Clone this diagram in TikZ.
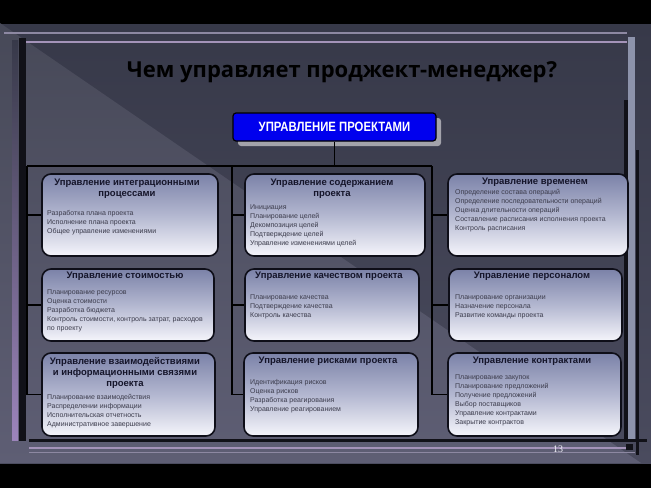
\documentclass[tikz,border=0pt]{standalone}
\usepackage{fontspec}
\setmainfont{Liberation Sans}
\newfontfamily\titlefont{Open Sans}
\newfontfamily\narrowfont[FakeStretch=0.84]{Liberation Sans}
\newfontfamily\numfont{Liberation Serif}
\usetikzlibrary{shadows}
\definecolor{slidetop}{HTML}{373949}
\definecolor{slidebot}{HTML}{4A4B5E}
\definecolor{tritop}{HTML}{474958}
\definecolor{tribot}{HTML}{5E5E74}
\definecolor{boxtop}{HTML}{7B82A8}
\definecolor{boxmid}{HTML}{B3B7D0}
\definecolor{boxbot}{HTML}{F5F5FB}
\definecolor{boxline}{HTML}{0E0E18}
\definecolor{ttlcol}{HTML}{15152A}
\definecolor{itmcol}{HTML}{3C3C4C}
\definecolor{topblue}{HTML}{0000EE}
\definecolor{shadowgray}{HTML}{A3A3AB}
\definecolor{lineA}{HTML}{8D88A2}
\definecolor{lineB}{HTML}{A493B9}
\definecolor{lavender}{HTML}{9C84BB}
\definecolor{darkbar}{HTML}{111118}
\definecolor{lightbar}{HTML}{8D93AB}
\definecolor{numcol}{HTML}{F2F2F8}
\tikzset{
  conn/.style={draw=black, line width=1.3pt},
  pmbox/.style={rounded corners=9pt, draw=boxline, line width=1.6pt,
    top color=boxtop, bottom color=boxbot, middle color=boxmid, inner sep=0pt},
  topbox/.style={fill=topblue, draw=black, line width=1.2pt, rounded corners=3pt,
    minimum width=203pt, minimum height=28pt, text=white, inner sep=0pt,
    font=\narrowfont\bfseries\fontsize{13.5}{14}\selectfont,
    general shadow={fill=shadowgray, shadow xshift=5pt, shadow yshift=-5pt}},
  ttl/.style={anchor=north, align=center, inner sep=0pt, text=ttlcol,
    font=\bfseries\fontsize{9.5}{11}\selectfont},
  itm/.style={anchor=north west, align=left, inner sep=0pt, text=itmcol,
    font=\fontsize{7}{9}\selectfont}
}
\begin{document}
\begin{tikzpicture}[x=1pt,y=-1pt]
\useasboundingbox (0,0) rectangle (651,488);
% background
\fill[black] (0,0) rectangle (651,488);
\shade[top color=slidetop, bottom color=slidebot] (0,24) rectangle (651,463);
\shade[top color=tritop, bottom color=tribot] (0,23) -- (641,463) -- (0,463) -- cycle;
% frame
\draw[lineA, line width=2pt] (4,33) -- (627,33);
\draw[lineB, line width=2.5pt] (19,42) -- (627,42);
\fill[darkbar] (19,38) rectangle (26,441);
\shade[top color=slidetop, bottom color=lavender] (12,40) rectangle (18,440);
\fill[darkbar] (624,100) rectangle (628,440);
\fill[lightbar] (628,37) rectangle (635,440);
\fill[darkbar] (636,150) rectangle (639,455);
\draw[darkbar, line width=3pt] (29,440) -- (647,440);
\draw[lineB, line width=1.5pt] (29,448) -- (627,448);
\draw[lineA, line width=1pt] (29,452) -- (635,452);
\fill[darkbar] (626,444) rectangle (633,450);
% title
\node[font=\titlefont\bfseries\fontsize{22}{24}\selectfont, text=black, inner sep=0pt] (title) at (342,72) {Чем управляет проджект-менеджер?};
% top node
\node[topbox] (top) at (334.5,127) {УПРАВЛЕНИЕ ПРОЕКТАМИ};
% boxes
\node[pmbox, minimum width=176pt, minimum height=82pt] (b11) at (130,215) {};
\node[pmbox, minimum width=180pt, minimum height=82pt] (b12) at (335,215) {};
\node[pmbox, minimum width=180pt, minimum height=82pt] (b13) at (538,215) {};
\node[pmbox, minimum width=172pt, minimum height=72pt] (b21) at (128,305) {};
\node[pmbox, minimum width=174pt, minimum height=72pt] (b22) at (332,305) {};
\node[pmbox, minimum width=173pt, minimum height=72pt] (b23) at (535.5,305) {};
\node[pmbox, minimum width=173pt, minimum height=83pt] (b31) at (128.5,394.5) {};
\node[pmbox, minimum width=174pt, minimum height=83pt] (b32) at (331,394.5) {};
\node[pmbox, minimum width=173pt, minimum height=83pt] (b33) at (534.5,394.5) {};
% titles
\node[ttl] (t11) at (127,179) {Управление интеграционными\\процессами};
\node[ttl] (t12) at (332,179) {Управление содержанием\\проекта};
\node[ttl] (t13) at (535,178) {Управление временем};
\node[ttl] (t21) at (125,272) {Управление стоимостью};
\node[ttl] (t22) at (329,272) {Управление качеством проекта};
\node[ttl] (t23) at (532,272) {Управление персоналом};
\node[ttl] (t31) at (125,357) {Управление взаимодействиями\\и информационными связями\\проекта};
\node[ttl] (t32) at (328,357) {Управление рисками проекта};
\node[ttl] (t33) at (532,357) {Управление контрактами};
% items
\node[itm] (i11) at (47,210) {Разработка плана проекта\\Исполнение плана проекта\\Общее управление изменениями};
\node[itm] (i12) at (250,204) {Инициация\\Планирование целей\\Декомпозиция целей\\Подтверждение целей\\Управление изменениями целей};
\node[itm] (i13) at (455,189) {Определение состава операций\\Определение последовательности операций\\Оценка длительности операций\\Составление расписания исполнения проекта\\Контроль расписания};
\node[itm] (i21) at (47,289) {Планирование ресурсов\\Оценка стоимости\\Разработка бюджета\\Контроль стоимости, контроль затрат, расходов\\по проекту};
\node[itm] (i22) at (250,294) {Планирование качества\\Подтверждение качества\\Контроль качества};
\node[itm] (i23) at (455,294) {Планирование организации\\Назначение персонала\\Развитие команды проекта};
\node[itm] (i31) at (47,394) {Планирование взаимодействия\\Распределении информации\\Исполнительская отчетность\\Административное завершение};
\node[itm] (i32) at (250,379) {Идентификация рисков\\Оценка рисков\\Разработка реагирования\\Управление реагированием};
\node[itm] (i33) at (455,374) {Планирование закупок\\Планирование предложений\\Получение предложений\\Выбор поставщиков\\Управление контрактами\\Закрытие контрактов};
% connectors
\coordinate (L) at (27,166);
\coordinate (M) at (232,166);
\coordinate (R) at (432,166);
\draw[conn] (top.south) -- (top.south |- M);
\draw[conn] (L) -- (R);
\draw[conn] (L) |- (b31.west);
\draw[conn] (L |- b11.west) -- (b11.west);
\draw[conn] (L |- b21.west) -- (b21.west);
\draw[conn] (M) |- (b32.west);
\draw[conn] (M |- b12.west) -- (b12.west);
\draw[conn] (M |- b22.west) -- (b22.west);
\draw[conn] (R) |- (b33.west);
\draw[conn] (R |- b13.west) -- (b13.west);
\draw[conn] (R |- b23.west) -- (b23.west);
% page number
\node[font=\numfont\fontsize{10}{11}\selectfont, text=numcol, inner sep=0pt] (pnum) at (558,449) {13};
\end{tikzpicture}
\end{document}
